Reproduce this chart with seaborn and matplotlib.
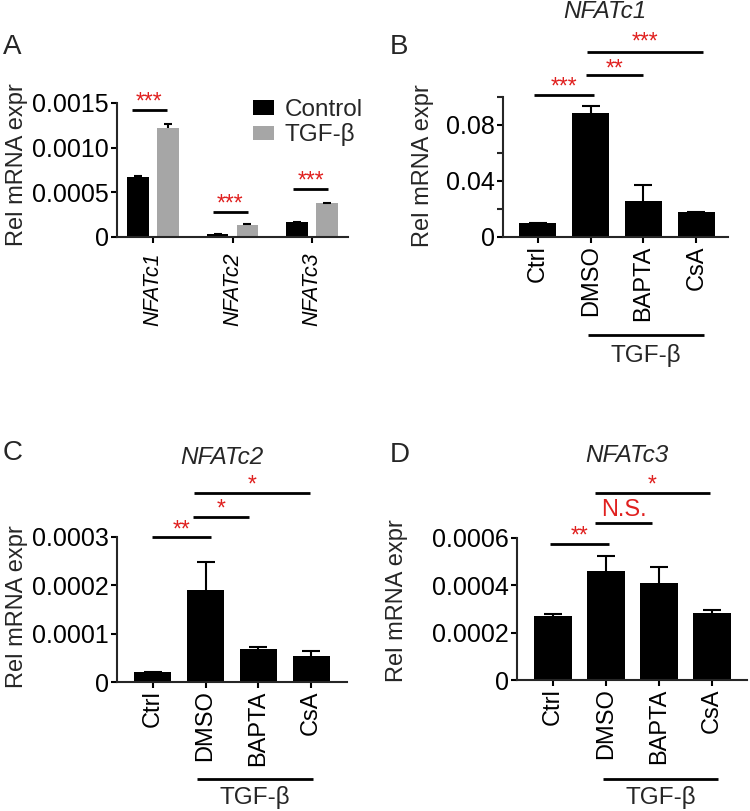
import numpy as np
import pandas as pd
import seaborn as sns
import matplotlib
matplotlib.use("Agg")
import matplotlib.pyplot as plt

# ---- data ----
genes = ["NFATc1", "NFATc2", "NFATc3"]
groups_a = ["Control", "TGF-β"]
ctrl_mean = [0.000668, 0.000037, 0.000171]
ctrl_err = [0.000015, 0.0, 0.0]
tgf_mean = [0.001217, 0.000134, 0.000377]
tgf_err = [0.000048, 0.000008, 0.000003]

treatments = ["Ctrl", "DMSO", "BAPTA", "CsA"]
c1_mean = [0.0101, 0.0884, 0.0257, 0.0178]
c1_err = [0.0, 0.0051, 0.0113, 0.0004]
c2_mean = [0.0000213, 0.000190, 0.0000677, 0.0000538]
c2_err = [0.0, 0.000059, 0.000004, 0.000011]
c3_mean = [0.000271, 0.000461, 0.000408, 0.000281]
c3_err = [0.000009, 0.000063, 0.000070, 0.000014]

ticks_a = [0, 0.0005, 0.0010, 0.0015]
ticklabels_a = ["0", "0.0005", "0.0010", "0.0015"]
ticks_b = [0, 0.04, 0.08]
ticklabels_b = ["0", "0.04", "0.08"]
ticks_c = [0, 0.0001, 0.0002, 0.0003]
ticklabels_c = ["0", "0.0001", "0.0002", "0.0003"]
ticks_d = [0, 0.0002, 0.0004, 0.0006]
ticklabels_d = ["0", "0.0002", "0.0004", "0.0006"]

RED = "#e0201f"
GRAY = "#a6a6a6"
W, H = 750, 811

sns.set_style("ticks")
plt.rcParams["font.family"] = ["Liberation Sans", "DejaVu Sans"]
plt.rcParams["axes.linewidth"] = 1.5
plt.rcParams["xtick.major.width"] = 1.5
plt.rcParams["ytick.major.width"] = 1.5
plt.rcParams["ytick.minor.width"] = 1.5
plt.rcParams["xtick.major.size"] = 4
plt.rcParams["ytick.major.size"] = 4
plt.rcParams["ytick.minor.size"] = 4

fig = plt.figure(figsize=(W / 100, H / 100), dpi=100)


def px_axes(x0, x1, ytop, ybot):
  return fig.add_axes([x0 / W, 1 - ybot / H, (x1 - x0) / W, (ybot - ytop) / H])


def fig_text(x, y, s, **kw):
  fig.text(x / W, 1 - y / H, s, **kw)


def style_axes(ax, ylim, ticks, labels, xlim, ylab_pos, xpad=2):
  sns.despine(ax=ax)
  ax.set_ylim(*ylim)
  ax.set_xlim(*xlim)
  ax.set_yticks(ticks)
  ax.set_yticklabels(labels, fontsize=18)
  ax.tick_params(axis="y", pad=2, colors="black")
  ax.tick_params(axis="x", pad=xpad, colors="black")
  ax.set_xlabel("")
  ax.set_ylabel("Rel mRNA expr", fontsize=17)
  ax.yaxis.label.set_verticalalignment("center")
  ax.yaxis.set_label_coords(*ylab_pos)
  for lbl in ax.get_xticklabels():
    lbl.set_rotation(90)


def add_errs(ax, means_list, errs_list, capsize):
  for cont, means, errs in zip(ax.containers, means_list, errs_list):
    xs = [b.get_x() + b.get_width() / 2 for b in cont]
    eb = ax.errorbar(xs, means, yerr=[np.zeros(len(errs)), errs], fmt="none",
                     ecolor="black", elinewidth=1.5, capsize=capsize, capthick=1.5, zorder=1)
    eb[1][0].set_visible(False)


def sig(ax, x0, x1, y, label, off=1, fs=16.5):
  ax.plot([x0, x1], [y, y], color="black", lw=2, clip_on=False, solid_capstyle="butt")
  ax.annotate(label, xy=((x0 + x1) / 2, y), xytext=(0, off), textcoords="offset points",
              ha="center", va="baseline", color=RED, fontsize=fs, annotation_clip=False)


def tgf_bracket(ax, x0, x1, y, ytext):
  ax.plot([x0, x1], [y, y], color="black", lw=2, clip_on=False, solid_capstyle="butt")
  ax.text((x0 + x1) / 2, ytext, "TGF-β", ha="center", va="center", fontsize=17.5, clip_on=False)


# ---- panel A ----
df_a = pd.DataFrame({
  "gene": genes * 2,
  "group": [groups_a[0]] * 3 + [groups_a[1]] * 3,
  "value": ctrl_mean + tgf_mean,
})
ax_a = px_axes(117, 348, 103, 237)
sns.barplot(data=df_a, x="gene", y="value", hue="group", hue_order=groups_a,
            palette=["black", GRAY], width=0.75, gap=0.27, errorbar=None,
            linewidth=0, ax=ax_a)
add_errs(ax_a, [ctrl_mean, tgf_mean], [ctrl_err, tgf_err], 3)
style_axes(ax_a, (0, 0.0015), ticks_a, ticklabels_a, (-0.45, 2.45), (-0.433, 0.537), xpad=7)
for lbl in ax_a.get_xticklabels():
  lbl.set_fontstyle("italic")
  lbl.set_fontsize(15.5)
handles, labels = ax_a.get_legend_handles_labels()
ax_a.legend(handles, labels, loc="upper left", bbox_to_anchor=(253 / W, 1 - 99 / H),
            bbox_transform=fig.transFigure, frameon=False, fontsize=17.5,
            handlelength=0.85, handleheight=0.55, handletextpad=0.45,
            labelspacing=0.1, borderpad=0, borderaxespad=0)
sig(ax_a, -0.26, 0.175, 0.001422, "***")
sig(ax_a, 0.75, 1.19, 0.000280, "***")
sig(ax_a, 1.76, 2.2, 0.000537, "***")

# ---- panel B ----
ax_b = px_axes(503, 728, 97, 237)
sns.barplot(x=treatments, y=c1_mean, color="black", width=0.7, errorbar=None,
            linewidth=0, saturation=1, ax=ax_b)
add_errs(ax_b, [c1_mean], [c1_err], 6.5)
style_axes(ax_b, (0, 0.1), ticks_b, ticklabels_b, (-0.66, 3.6), (-0.356, 0.507))
ax_b.set_yticks([0.02, 0.06, 0.1], minor=True)
for lbl in ax_b.get_xticklabels():
  lbl.set_fontsize(17)
sig(ax_b, -0.07, 1.06, 0.1016, "***")
sig(ax_b, 0.906, 1.987, 0.1155, "**", off=0)
sig(ax_b, 0.93, 3.12, 0.1324, "***", off=2.5)
tgf_bracket(ax_b, 0.94, 3.15, -0.0697, -0.0843)

# ---- panel C ----
ax_c = px_axes(117, 347, 537, 682)
sns.barplot(x=treatments, y=c2_mean, color="black", width=0.7, errorbar=None,
            linewidth=0, saturation=1, ax=ax_c)
add_errs(ax_c, [c2_mean], [c2_err], 6.5)
style_axes(ax_c, (0, 0.0003), ticks_c, ticklabels_c, (-0.68, 3.68), (-0.435, 0.517))
for lbl in ax_c.get_xticklabels():
  lbl.set_fontsize(17)
sig(ax_c, -0.025, 1.10, 0.000299, "**")
sig(ax_c, 0.753, 1.827, 0.000342, "*")
sig(ax_c, 0.778, 2.98, 0.000391, "*")
tgf_bracket(ax_c, 0.835, 3.04, -0.000201, -0.000238)

# ---- panel D ----
ax_d = px_axes(517, 747, 537.7, 680)
sns.barplot(x=treatments, y=c3_mean, color="black", width=0.7, errorbar=None,
            linewidth=0, saturation=1, ax=ax_d)
add_errs(ax_d, [c3_mean], [c3_err], 6.5)
style_axes(ax_d, (0, 0.0006), ticks_d, ticklabels_d, (-0.68, 3.66), (-0.52, 0.555))
for lbl in ax_d.get_xticklabels():
  lbl.set_fontsize(17)
sig(ax_d, -0.057, 1.06, 0.000572, "**")
sig(ax_d, 0.79, 1.87, 0.000664, "N.S.", off=5, fs=17)
sig(ax_d, 0.79, 2.96, 0.000789, "*")
tgf_bracket(ax_d, 0.94, 3.11, -0.000418, -0.000494)

# ---- titles and panel letters ----
fig_text(605, 12, "NFATc1", ha="center", va="center", fontsize=17.5, style="italic")
fig_text(222, 457, "NFATc2", ha="center", va="center", fontsize=17.5, style="italic")
fig_text(627, 455, "NFATc3", ha="center", va="center", fontsize=17.5, style="italic")
fig_text(12, 47, "A", ha="center", va="center", fontsize=20)
fig_text(399, 47, "B", ha="center", va="center", fontsize=20)
fig_text(13, 453, "C", ha="center", va="center", fontsize=20)
fig_text(400, 455, "D", ha="center", va="center", fontsize=20)

fig.savefig("out.png", dpi=100)
